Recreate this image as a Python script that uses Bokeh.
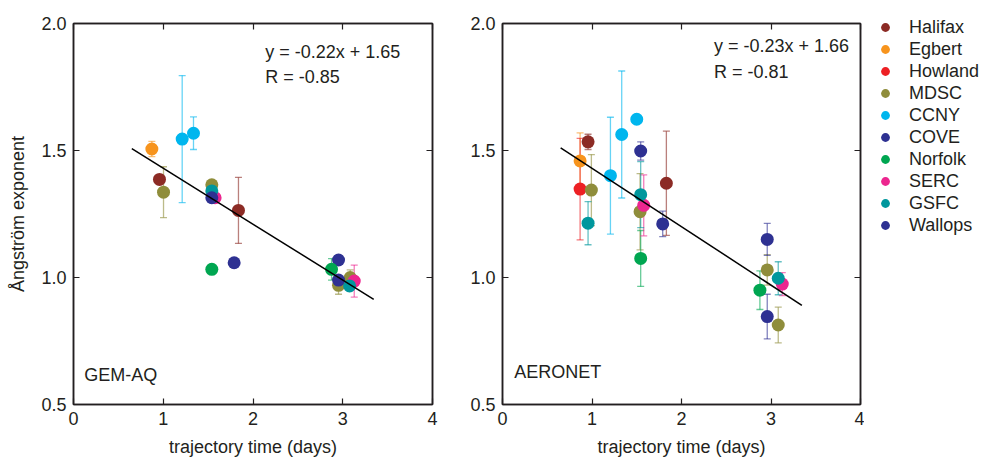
from bokeh.plotting import figure
from bokeh.models import (Range1d, FixedTicker, PrintfTickFormatter, LinearAxis, Whisker,
                          TeeHead, ColumnDataSource, Legend, LegendItem, Label,
                          CustomLabelingPolicy)
from bokeh.layouts import row, column
from bokeh.embed import file_html
from bokeh.resources import INLINE

# ---------------- data ----------------
stations = ["Halifax", "Egbert", "Howland", "MDSC", "CCNY", "COVE", "Norfolk", "SERC", "GSFC", "Wallops"]
colors = ["#8c2b25", "#f7941d", "#ed2024", "#8f8d3b", "#00b6ee", "#2e3192", "#00a651", "#ec268f", "#00979d", "#2e3192"]

# GEM-AQ panel
gem_site = ["Halifax", "Halifax", "Egbert", "MDSC", "MDSC", "MDSC", "MDSC", "CCNY", "CCNY",
            "COVE", "COVE", "Norfolk", "Norfolk", "SERC", "SERC", "GSFC", "GSFC", "Wallops", "Wallops"]
gem_x = [0.958, 1.838, 0.873, 1.003, 1.541, 2.953, 3.083, 1.211, 1.337,
         2.953, 1.790, 1.541, 2.875, 1.578, 3.128, 1.541, 3.076, 1.541, 2.953]
gem_y = [1.386, 1.264, 1.506, 1.336, 1.365, 0.969, 1.000, 1.545, 1.568,
         1.069, 1.058, 1.032, 1.032, 1.314, 0.986, 1.341, 0.967, 1.314, 0.990]
gem_err = [0.0, 0.13, 0.03, 0.10, 0.0, 0.035, 0.03, 0.25, 0.064,
           0.0, 0.0, 0.0, 0.042, 0.0, 0.063, 0.0, 0.0, 0.0, 0.0]
gem_fit = [-0.22, 1.65]
gem_r = -0.85

# AERONET panel
aer_site = ["Halifax", "Halifax", "Egbert", "Howland", "MDSC", "MDSC", "MDSC", "MDSC",
            "CCNY", "CCNY", "CCNY", "COVE", "COVE", "Norfolk", "Norfolk", "SERC", "SERC",
            "GSFC", "GSFC", "GSFC", "Wallops", "Wallops"]
aer_x = [0.956, 1.831, 0.867, 0.867, 0.993, 1.537, 2.958, 3.081,
         1.206, 1.332, 1.500, 1.544, 2.958, 1.544, 2.876, 1.578, 3.126,
         0.956, 1.544, 3.081, 1.790, 2.958]
aer_y = [1.534, 1.371, 1.459, 1.348, 1.344, 1.259, 1.030, 0.813,
         1.401, 1.563, 1.623, 1.498, 1.150, 1.075, 0.950, 1.284, 0.974,
         1.214, 1.326, 0.997, 1.211, 0.846]
aer_err = [0.03, 0.205, 0.11, 0.20, 0.14, 0.15, 0.06, 0.07,
           0.23, 0.25, 0.0, 0.036, 0.063, 0.11, 0.076, 0.12, 0.045,
           0.085, 0.13, 0.065, 0.05, 0.088]
aer_fit = [-0.23, 1.66]
aer_r = -0.81

fit_x = [0.65, 3.345]
x_ticks = [0, 1, 2, 3, 4]
y_ticks = [0.5, 1.0, 1.5, 2.0]

FONT = "Liberation Sans"
TXT = "#231f20"
FS = "18px"
H = 459


def style_axis(ax, labels=True):
    ax.major_tick_in = 6
    ax.major_tick_out = 0
    ax.minor_tick_in = 0
    ax.minor_tick_out = 0
    ax.axis_line_color = TXT
    ax.axis_line_width = 1.5
    ax.major_tick_line_color = TXT
    ax.major_tick_line_width = 1.2
    ax.major_label_text_font = FONT
    ax.major_label_text_color = TXT
    ax.axis_label_text_font = FONT
    ax.axis_label_text_font_style = "normal"
    ax.axis_label_text_font_size = FS
    ax.axis_label_text_color = TXT
    ax.major_label_text_line_height = 1.0
    ax.axis_label_text_line_height = 1.0
    if labels:
        ax.major_label_text_font_size = FS
    else:
        ax.major_label_text_font_size = "1px"
        ax.major_label_policy = CustomLabelingPolicy(code="return []")
        ax.major_label_standoff = 0


def make_panel(site, xs, ys, errs, fit, r, name, name_pos, eq_pos, width, mbl, mbr, ylabel):
    p = figure(width=width, height=H, x_range=Range1d(0, 4), y_range=Range1d(0.5, 2.0),
               output_backend="svg", toolbar_location=None,
               min_border_left=mbl, min_border_right=mbr, min_border_top=23, min_border_bottom=53)
    p.xgrid.visible = False
    p.ygrid.visible = False
    p.outline_line_color = TXT
    p.outline_line_width = 1.5
    p.background_fill_color = "white"
    p.border_fill_color = "white"

    p.xaxis.ticker = FixedTicker(ticks=x_ticks)
    p.xaxis.formatter = PrintfTickFormatter(format="%d")
    p.yaxis.ticker = FixedTicker(ticks=y_ticks)
    p.yaxis.formatter = PrintfTickFormatter(format="%.1f")
    style_axis(p.xaxis[0])
    style_axis(p.yaxis[0])
    p.xaxis.axis_label = "trajectory time (days)"
    p.xaxis.major_label_standoff = 7
    p.xaxis.axis_label_standoff = 9
    p.yaxis.major_label_standoff = 7
    if ylabel:
        p.yaxis.axis_label = ylabel
        p.yaxis.axis_label_standoff = 10

    top = LinearAxis(ticker=FixedTicker(ticks=x_ticks))
    style_axis(top, labels=False)
    p.add_layout(top, "above")
    right = LinearAxis(ticker=FixedTicker(ticks=y_ticks))
    style_axis(right, labels=False)
    p.add_layout(right, "right")

    for st, col in zip(stations, colors):
        idx = [i for i, s in enumerate(site) if s == st]
        if not idx:
            continue
        src = ColumnDataSource(dict(
            x=[xs[i] for i in idx],
            y=[ys[i] for i in idx],
            upper=[ys[i] + errs[i] for i in idx],
            lower=[ys[i] - errs[i] for i in idx],
        ))
        w = Whisker(base="x", upper="upper", lower="lower", dimension="height", source=src,
                    line_color=col, line_alpha=0.6, line_width=1.3, level="underlay",
                    upper_head=TeeHead(size=7, line_color=col, line_alpha=0.6, line_width=1.3),
                    lower_head=TeeHead(size=7, line_color=col, line_alpha=0.6, line_width=1.3))
        p.add_layout(w)
        p.scatter("x", "y", source=src, size=13, fill_color=col, line_color=None)

    fy = [fit[0] * x + fit[1] for x in fit_x]
    p.line(fit_x, fy, line_color="black", line_width=1.5)

    p.add_layout(Label(x=eq_pos[0], y=eq_pos[1], text="y = %.2fx + %.2f" % (fit[0], fit[1]),
                       text_font=FONT, text_font_size=FS, text_color=TXT, text_baseline="middle"))
    p.add_layout(Label(x=eq_pos[0], y=eq_pos[2], text="R = %.2f" % r,
                       text_font=FONT, text_font_size=FS, text_color=TXT, text_baseline="middle"))
    p.add_layout(Label(x=name_pos[0], y=name_pos[1], text=name,
                       text_font=FONT, text_font_size=FS, text_color=TXT, text_baseline="middle"))
    return p


p1 = make_panel(gem_site, gem_x, gem_y, gem_err, gem_fit, gem_r, "GEM-AQ", (0.12, 0.618),
                (2.136, 1.887, 1.789), 452, 73, 20, "Ångström exponent")
p2 = make_panel(aer_site, aer_x, aer_y, aer_err, aer_fit, aer_r, "AERONET", (0.13, 0.628),
                (2.362, 1.913, 1.811), 412, 50, 4, None)

# legend-only figure (its renderers hold no drawable points)
p3 = figure(width=117, height=H, x_range=Range1d(0, 1), y_range=Range1d(0, 1), title=None,
            output_backend="svg", toolbar_location=None,
            min_border_left=6, min_border_top=16, min_border_right=0, min_border_bottom=0)
p3.axis.visible = False
p3.xgrid.visible = False
p3.ygrid.visible = False
p3.outline_line_color = None
nan = float("nan")
items = []
for st, col in zip(stations, colors):
    rr = p3.scatter(x=[nan], y=[nan], size=13, fill_color=col, line_color=None)
    items.append(LegendItem(label=st, renderers=[rr]))
legend = Legend(items=items, location="top_left", glyph_width=30, glyph_height=22,
                label_height=22, label_standoff=9, spacing=0, padding=0, margin=0,
                border_line_color=None, background_fill_alpha=0,
                label_text_font=FONT, label_text_font_size=FS, label_text_color=TXT)
p3.add_layout(legend)

layout = row(p1, p2, column(p3))
open("out.html", "w").write(file_html(layout, INLINE))
